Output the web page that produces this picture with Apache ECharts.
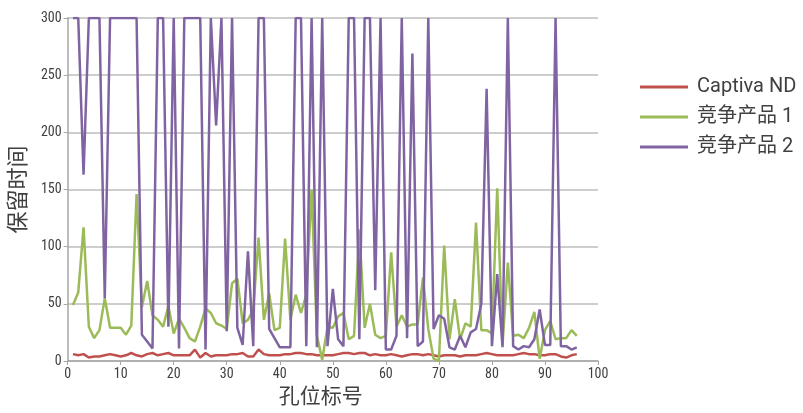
<!DOCTYPE html>
<html>
<head>
<meta charset="utf-8">
<script src="https://cdn.jsdelivr.net/npm/echarts@6/dist/echarts.min.js"></script>
<style>
html,body{margin:0;padding:0;background:#fff;overflow:hidden;}
#chart{width:803px;height:413px;}
</style>
</head>
<body>
<div id="chart"></div>
<script>
// Well positions (孔位标号)
var wells = [];
for (var i = 1; i <= 96; i++) wells.push(i);

var seriesNames = ['Captiva ND', '竞争产品 1', '竞争产品 2'];

var captivaND = [
  6,5,6,3,4,4,5,6,5,4,
  5,7,5,4,6,7,5,6,7,5,
  5,5,5,10,3,7,4,5,5,5,
  6,6,7,4,4,10,6,5,5,5,
  6,6,7,7,6,6,5,5,5,5,
  6,7,7,6,7,7,5,6,5,5,
  6,5,4,5,6,6,5,6,5,4,
  5,5,5,4,5,5,5,6,7,6,
  5,5,5,5,6,7,6,6,5,5,
  6,6,4,3,5,6
];

var competitor1 = [
  49,60,117,30,20,27,55,29,29,29,
  23,31,146,47,70,40,36,30,48,24,
  37,29,20,17,30,46,42,33,31,28,
  68,72,33,36,45,108,36,59,27,29,
  107,36,58,42,58,150,22,1,30,29,
  39,42,19,22,115,29,50,23,20,22,
  95,30,40,30,32,32,73,28,2,0,
  101,19,54,19,33,30,121,27,27,24,
  151,14,86,22,23,20,29,43,2,27,
  35,19,20,20,27,22
];

var competitor2 = [
  300,300,163,300,300,300,55,300,300,300,
  300,300,300,23,17,11,300,300,30,300,
  11,300,300,300,300,10,300,206,300,26,
  300,29,14,96,13,300,300,28,20,12,
  12,12,300,300,13,300,12,300,13,63,
  19,13,300,300,19,300,300,62,300,10,
  10,22,300,20,269,13,17,300,28,40,
  37,12,10,22,12,25,28,50,238,13,
  76,12,300,13,10,13,12,19,45,14,
  14,300,13,13,10,12
];

var xTicks = { min: 0, max: 100, interval: 10 };
var yTicks = { min: 0, max: 300, interval: 50 };
var colors = ['#c0504d', '#9bbb59', '#8064a2'];

function pairs(arr) {
  return wells.map(function (w, k) { return [w, arr[k]]; });
}

var tickFont = "'Liberation Sans Narrow', 'Roboto Condensed', 'DejaVu Sans Condensed', sans-serif";
var cjkFont = "Roboto, 'Noto Sans CJK SC', sans-serif";

var chart = echarts.init(document.getElementById('chart'), null, { renderer: 'canvas' });
chart.setOption({
  animation: false,
  color: colors,
  grid: { left: 62, right: 205, top: 18, bottom: 48, containLabel: false },
  legend: {
    orient: 'vertical',
    left: 640,
    top: 77,
    padding: 0,
    icon: 'rect',
    itemWidth: 48,
    itemHeight: 3,
    itemGap: 10,
    textStyle: { fontSize: 20, color: '#404040', fontFamily: cjkFont, padding: [0, 0, 0, 4] },
    data: seriesNames
  },
  xAxis: {
    type: 'value',
    min: xTicks.min, max: xTicks.max, interval: xTicks.interval,
    name: '孔位标号',
    nameLocation: 'middle',
    nameGap: 26,
    nameTextStyle: { fontSize: 21, color: '#404040', fontFamily: cjkFont, padding: [0, 24, 0, 0] },
    axisLine: { show: true, lineStyle: { color: '#a6a6a6', width: 1.5 } },
    axisTick: { show: true, inside: false, length: 4, lineStyle: { color: '#a6a6a6' } },
    axisLabel: { fontSize: 14, color: '#404040', fontFamily: tickFont, margin: 6 },
    splitLine: { show: false }
  },
  yAxis: {
    type: 'value',
    min: yTicks.min, max: yTicks.max, interval: yTicks.interval,
    name: '保留时间',
    nameLocation: 'middle',
    nameGap: 33,
    nameTextStyle: { fontSize: 22, color: '#404040', fontFamily: cjkFont },
    axisLine: { show: true, lineStyle: { color: '#a6a6a6', width: 1.5 } },
    axisTick: { show: true, inside: false, length: 4, lineStyle: { color: '#a6a6a6' } },
    axisLabel: { fontSize: 14, color: '#404040', fontFamily: tickFont, margin: 6 },
    splitLine: { show: true, lineStyle: { color: '#bdbdbd', width: 1.5 } }
  },
  series: [
    { name: seriesNames[0], type: 'line', data: pairs(captivaND), showSymbol: false, symbol: 'none', lineStyle: { width: 2.5 } },
    { name: seriesNames[1], type: 'line', data: pairs(competitor1), showSymbol: false, symbol: 'none', lineStyle: { width: 2.5 } },
    { name: seriesNames[2], type: 'line', data: pairs(competitor2), showSymbol: false, symbol: 'none', lineStyle: { width: 2.5 } }
  ]
});
</script>
</body>
</html>
